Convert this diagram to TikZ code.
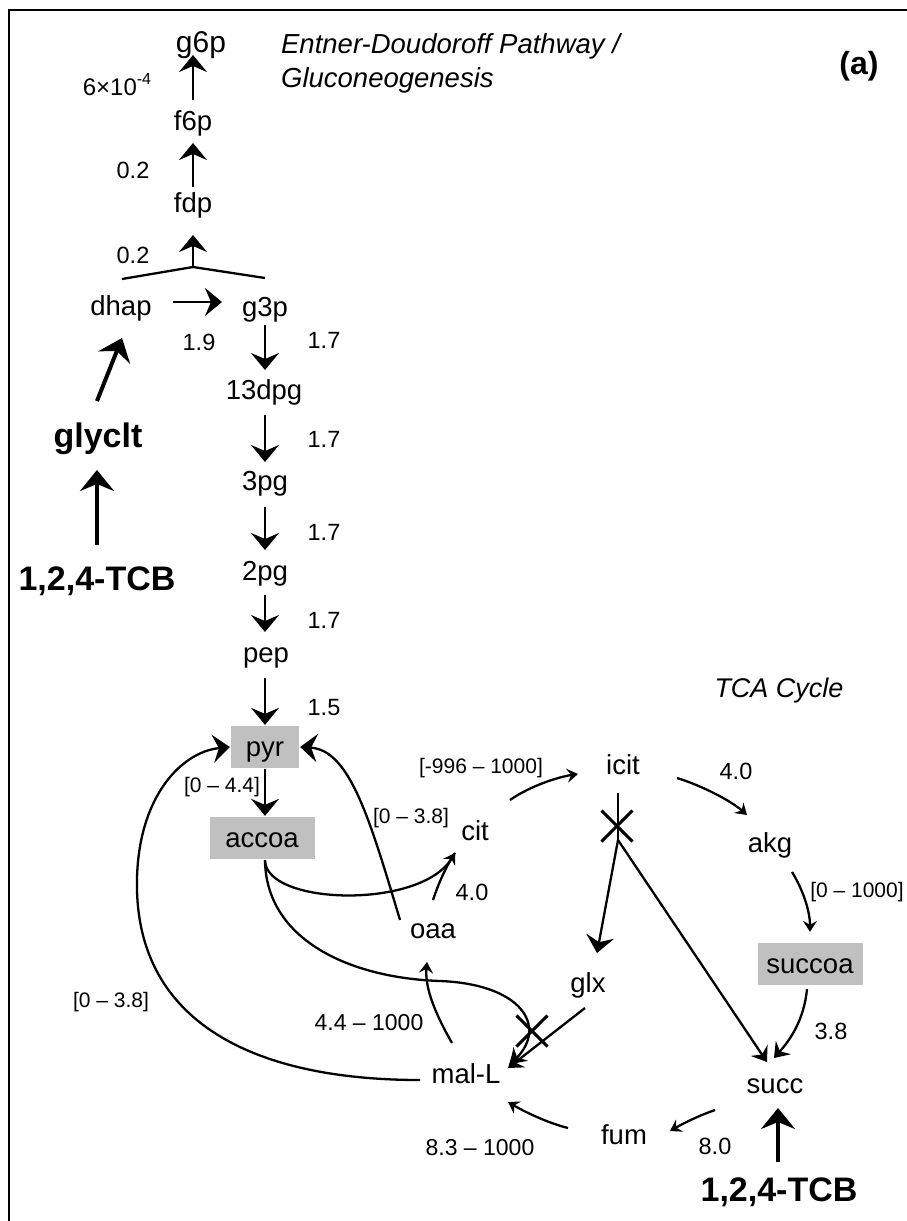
\documentclass[tikz,border=0pt]{standalone}
\usepackage{fontspec}
\setmainfont{Liberation Sans}
\usetikzlibrary{arrows.meta,calc,shapes.misc}
\definecolor{boxgray}{RGB}{192,192,192}
\begin{document}
\begin{tikzpicture}[x=1pt,y=-1pt,line width=2.3pt,
  met/.style={anchor=base,inner sep=0pt,font=\fontsize{27.5}{33}\selectfont},
  lbl/.style={anchor=base,inner sep=0pt,font=\fontsize{23.5}{28}\selectfont},
  blbl/.style={anchor=base,inner sep=0pt,font=\fontsize{21}{25}\selectfont},
  wlbl/.style={anchor=base,inner sep=0pt,font=\fontsize{23}{27}\selectfont},
  boldtxt/.style={anchor=base,inner sep=0pt,font=\bfseries\fontsize{34}{40}\selectfont},
  ttl/.style={anchor=base west,inner sep=0pt,font=\itshape\fontsize{27.5}{32}\selectfont},
  mbox/.style={fill=boxgray,inner sep=0pt,minimum height=42pt,text height=20pt,text depth=2pt,font=\fontsize{27.5}{33}\selectfont},
  xmark/.style={cross out,draw,line width=3pt,minimum size=28pt,inner sep=0pt},
  small/.style={-{Stealth[length=11pt,width=14pt,inset=4pt]}},
  med/.style={-{Stealth[length=14pt,width=20pt,inset=5pt]}},
  big/.style={-{Stealth[length=17pt,width=28pt,inset=6pt]}},
  thk/.style={line width=4pt,-{Stealth[length=21pt,width=34pt,inset=7pt]}}
]
\useasboundingbox (0,0) rectangle (907,1221);
% frame
\draw[line width=2pt] (9,1221) -- (9,10) -- (907,10);

% titles
\node[ttl] (t1) at (280,53) {Entner-Doudoroff Pathway /};
\node[ttl] (t2) at (280,87) {Gluconeogenesis};
\node[anchor=base,inner sep=0pt,font=\bfseries\fontsize{32}{38}\selectfont] (lab) at (859,74) {(a)};
\node[anchor=base,inner sep=0pt,font=\itshape\fontsize{27}{32}\selectfont] (tca) at (779,697) {TCA Cycle};

% upper pathway metabolites
\node[anchor=base,inner sep=0pt,font=\fontsize{30}{36}\selectfont] (g6p) at (201,52) {g6p};
\node[met] (f6p) at (193,130) {f6p};
\node[met] (fdp) at (193,212) {fdp};
\node[met] (dhap) at (121,315) {dhap};
\node[met] (g3p) at (265,316) {g3p};
\node[met] (n13dpg) at (264,399) {13dpg};
\node[met] (n3pg) at (265,490) {3pg};
\node[met] (n2pg) at (265,580) {2pg};
\node[met] (pep) at (266,662) {pep};
\node[boldtxt] (glyclt) at (98,447) {glyclt};
\node[boldtxt] (tcbL) at (97,590) {1,2,4-TCB};

% labels upper
\node[anchor=base,inner sep=0pt,font=\fontsize{24}{28}\selectfont] (l1) at (117,95) {6×10\raisebox{0.45em}{\fontsize{16}{18}\selectfont -4}};
\node[lbl] (l2) at (133,178) {0.2};
\node[lbl] (l3) at (133,263) {0.2};
\node[lbl] (l4) at (199,350) {1.9};
\node[lbl] (l5) at (324,348) {1.7};
\node[lbl] (l6) at (324,447) {1.7};
\node[lbl] (l7) at (324,540) {1.7};
\node[lbl] (l8) at (324,628) {1.7};
\node[lbl] (l9) at (324,715) {1.5};

% boxes
\node[mbox,minimum width=68pt] (pyr) at (265,747) {pyr};
\node[mbox,minimum width=105pt] (accoa) at (262,838) {accoa};
\node[mbox,minimum width=105pt] (succoa) at (810,964) {succoa};

% TCA metabolites
\node[met] (cit) at (475,840) {cit};
\node[met] (icit) at (623,774) {icit};
\node[met] (akg) at (770,852) {akg};
\node[met] (oaa) at (433,938) {oaa};
\node[met] (glx) at (588,992) {glx};
\node[met] (succ) at (775,1093) {succ};
\node[met] (malL) at (466,1083) {mal-L};
\node[met] (fum) at (624,1144) {fum};
\node[boldtxt] (tcbR) at (779,1201) {1,2,4-TCB};

% TCA labels
\node[blbl] (m1) at (222,792) {[0 – 4.4]};
\node[blbl] (m2) at (411,823) {[0 – 3.8]};
\node[blbl] (m3) at (481,773) {[-996 – 1000]};
\node[lbl] (m4) at (472,900) {4.0};
\node[lbl] (m5) at (736,779) {4.0};
\node[blbl] (m6) at (857,897) {[0 – 1000]};
\node[lbl] (m7) at (831,1039) {3.8};
\node[wlbl] (m8) at (369,1030) {4.4 – 1000};
\node[blbl] (m9) at (111,1007) {[0 – 3.8]};
\node[wlbl] (m10) at (480,1155) {8.3 – 1000};
\node[lbl] (m11) at (715,1154) {8.0};

% cross marks
\node[xmark] (xA) at (617,826) {};
\node[xmark] (xB) at (532,1031) {};

% upper pathway arrows
\draw[big] ($(f6p.base)+(0,-30)$) -- ($(g6p.base)+(-8,3)$);
\draw[big] ($(fdp.base)+(0,-25)$) -- ($(f6p.base)+(0,13)$);
\coordinate (J) at (193,267);
\draw ($(dhap.base)+(1,-36)$) -- (J) -- ($(g3p.base)+(0,-38)$);
\draw[big] (J) -- ($(fdp.base)+(0,23)$);
\draw[big] ($(dhap.base)+(52,-13)$) -- ($(g3p.base)+(-43,-14)$);
\draw[big] ($(g3p.base)+(0,9)$) -- ($(g3p.base)+(0,54)$);
\draw[big] ($(n13dpg.base)+(1,16)$) -- ($(n3pg.base)+(0,-28)$);
\draw[big] ($(n3pg.base)+(0,17)$) -- ($(n2pg.base)+(0,-30)$);
\draw[big] ($(n2pg.base)+(0,15)$) -- ($(n2pg.base)+(0,52)$);
\draw[big] ($(n2pg.base)+(0,98)$) -- (pyr.north);
\draw[big] (pyr.south) -- (pyr.south |- accoa.north);
\draw[thk] ($(glyclt.base)+(-1,-46)$) -- ($(dhap.base)+(1,23)$);
\draw[thk] ($(tcbL.base)+(0,-45)$) -- ($(glyclt.base)+(-1,23)$);

% pyr feedback
\draw[big] ($(oaa.base)+(-33,-18)$) .. controls (370,820) and (350,750) .. (pyr.east);
\draw[big] ($(malL.base)+(-46,-3)$) .. controls (250,1080) and (140,1020) .. (137,890)
   .. controls (135,800) and (180,752) .. (pyr.west);

% accoa branches
\draw[small] ($(accoa.south)+(3,0)$) .. controls (265,905) and (420,910) .. ($(cit.base)+(-20,13)$);
\draw ($(oaa.base)+(0,-38)$) .. controls (438,885) and (445,868) .. ($(cit.base)+(-20,13)$);
\draw[med] ($(accoa.south)+(3,0)$) .. controls (266,940) and (350,978) .. (440,981)
   .. controls (520,984) and (548,1025) .. ($(malL.base)+(45,-19)$);

% TCA cycle
\draw[small] ($(cit.base)+(35,-40)$) .. controls (530,786) and (558,777) .. ($(icit.base)+(-45,0)$);
\draw[small] ($(icit.base)+(54,4)$) .. controls (700,785) and (730,800) .. ($(akg.base)+(-23,-37)$);
\draw[small] ($(akg.base)+(22,20)$) .. controls (802,888) and (810,910) .. ($(succoa.north)+(0,-10)$);
\coordinate (K) at (618,840);
\draw ($(icit.base)+(-5,19)$) -- (K);
\draw[big] (K) -- ($(glx.base)+(9,-39)$);
\draw[med] (K) -- ($(succ.base)+(-8,-31)$);
\draw[med] ($(succoa.south)+(-3,3)$) .. controls (804,1020) and (790,1040) .. ($(succ.base)+(-1,-35)$);
\draw[small] ($(succ.base)+(-60,17)$) .. controls (698,1116) and (684,1123) .. ($(fum.base)+(46,-13)$);
\draw[small] ($(fum.base)+(-56,-16)$) .. controls (548,1123) and (525,1112) .. ($(malL.base)+(42,19)$);
\draw[small] ($(malL.base)+(-14,-40)$) .. controls (432,1008) and (425,985) .. ($(oaa.base)+(-6,24)$);
\draw[med] ($(glx.base)+(-3,16)$) -- ($(malL.base)+(42,-15)$);
\draw[thk] ($(tcbR.base)+(-1,-39)$) -- ($(succ.base)+(3,15)$);
\end{tikzpicture}
\end{document}
